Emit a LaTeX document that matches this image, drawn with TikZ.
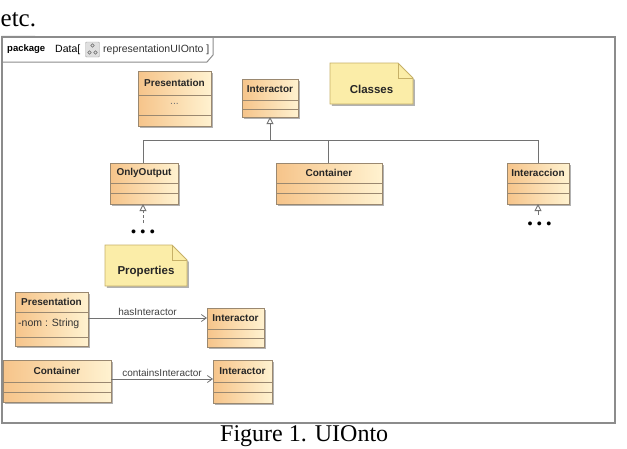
\documentclass[tikz,border=0pt]{standalone}
\usepackage{fontspec}
\setmainfont{Liberation Serif}
\setsansfont{Liberation Sans}
\usetikzlibrary{arrows.meta,shadows,calc}
\definecolor{clsA}{HTML}{F6C48A}
\definecolor{clsB}{HTML}{FFF2D0}
\definecolor{clsD}{HTML}{9A8870}
\definecolor{noteF}{HTML}{FBEDA8}
\definecolor{noteD}{HTML}{C6B067}
\definecolor{frameC}{HTML}{8C8C8C}
\definecolor{lineC}{HTML}{727272}
\tikzset{
  classbox/.style={draw=clsD, line width=0.8pt, left color=clsA, right color=clsB,
    drop shadow={shadow xshift=1.8pt, shadow yshift=-1.8pt, fill=black, opacity=0.3},
    inner sep=0pt, outer sep=0pt},
  clsname/.style={font=\sffamily\bfseries\fontsize{10}{10}\selectfont, inner sep=0pt, text=black!85},
  attr/.style={font=\sffamily\fontsize{10.5}{10.5}\selectfont, inner sep=0pt, text=black!80},
  notebox/.style={draw=noteD, line width=0.8pt, fill=noteF, line join=miter},
  notetext/.style={font=\sffamily\bfseries\fontsize{11.5}{11.5}\selectfont, inner sep=0pt, text=black!85},
  genline/.style={draw=lineC, line width=0.9pt},
  gentip/.style={-{Triangle[open, length=7pt, width=7pt, fill=white]}},
  assoc/.style={draw=lineC, line width=0.8pt, -{Straight Barb[length=5pt, width=7pt]}},
  asslabel/.style={font=\sffamily\fontsize{10}{10}\selectfont, text=black!75, inner sep=2.5pt},
  dotsnode/.style={font=\rmfamily\bfseries\fontsize{24}{24}\selectfont, inner sep=0pt},
  bigtext/.style={font=\rmfamily\fontsize{25}{25}\selectfont, inner sep=0pt},
}
% name, x1, y1, x2, y2, line1, line2, title
\newcommand\umlcls[8]{%
  \node[classbox, minimum width={#4-#2}, minimum height={#5-#3}] (#1) at ({(#2+#4)/2},{(#3+#5)/2}) {};
  \draw[clsD, line width=0.8pt] (#1.west |- 0,#6) -- (#1.east |- 0,#6);
  \draw[clsD, line width=0.8pt] (#1.west |- 0,#7) -- (#1.east |- 0,#7);
  \node[clsname] (#1-t) at ({(#2+#4)/2},{(#3+#6)/2}) {#8};
}
% name, x1, y1, x2, y2, text
\newcommand\umlnote[6]{%
  \node[minimum width={#4-#2}, minimum height={#5-#3}, inner sep=0pt, outer sep=0pt] (#1) at ({(#2+#4)/2},{(#3+#5)/2}) {};
  \filldraw[notebox, drop shadow={shadow xshift=1.8pt, shadow yshift=-1.8pt, fill=black, opacity=0.3}]
    (#1.north west) -- ($(#1.north east)+(-15,0)$) -- ($(#1.north east)+(0,15)$)
    -- (#1.south east) -- (#1.south west) -- cycle;
  \draw[notebox, fill=none] ($(#1.north east)+(-15,0)$) -- ($(#1.north east)+(-15,15)$) -- ($(#1.north east)+(0,15)$);
  \node[notetext] (#1-t) at ($(#1.center)+(0,6)$) {#6};
}
\begin{document}
\begin{tikzpicture}[x=1pt, y=-1pt]
\useasboundingbox (0,0) rectangle (627,448);
% outer text
\node[bigtext, anchor=base west] (etc) at (0.5,26) {etc.};
\node[bigtext, font=\rmfamily\fontsize{24}{24}\selectfont, anchor=base west] (cap) at (220,441.5) {Figure 1. UIOnto};
% frame
\node[draw=frameC, line width=1.2pt, minimum width=613pt, minimum height=386pt, inner sep=0pt] (frame) at (308.5,230) {};
\draw[frameC, line width=1pt] (frame.north west) -- (213,37) -- (213,55) -- (207,62) -- (2,62);
\node[font=\sffamily\bfseries\fontsize{9.5}{9.5}\selectfont, anchor=west, inner sep=0pt] (pkg) at (7,49.5) {package};
\node[font=\sffamily\fontsize{10.5}{10.5}\selectfont, anchor=west, inner sep=0pt] (pkgname) at (55,49.5) {Data[};
\node[draw=gray!70, fill=gray!25, rounded corners=1pt, minimum width=14pt, minimum height=15pt, inner sep=0pt] (icon) at (92.5,49.5) {};
\draw[gray!80!black, line width=0.6pt] ($(icon.center)+(0,-4)$) circle (1.8pt) ($(icon.center)+(-3,3)$) circle (1.8pt) ($(icon.center)+(3,3)$) circle (1.8pt);
\node[font=\sffamily\fontsize{10.5}{10.5}\selectfont, anchor=west, inner sep=0pt, text=black!80] (pkgdiag) at (103,49.5) {representationUIOnto ]};
% top classes
\umlcls{presTop}{138}{71}{211}{126}{95}{115}{Presentation}
\node[attr, text=black!55] (presTopdots) at (174.5,104) {...};
\umlcls{interTop}{242}{79}{298}{117}{100}{109}{Interactor}
\umlnote{noteClasses}{330}{63}{413}{104}{Classes}
\umlcls{onlyOut}{110}{163}{178}{204}{183}{193}{OnlyOutput}
\umlcls{contMid}{276}{163}{382}{204}{183}{193}{Container}
\umlcls{interac}{507}{163}{569}{204}{183}{193}{Interaccion}
% generalization tree
\coordinate (bus) at (270,140);
\draw[genline, gentip] (bus) -- (interTop.south);
\draw[genline] (onlyOut.north -| 143,0) |- (bus);
\draw[genline] (contMid.north -| 328,0) |- (bus);
\draw[genline] (interac.north -| 538,0) |- (bus);
% open subclasses
\coordinate (ooFree) at (143,223);
\coordinate (iaFree) at (538,215);
\draw[genline, gentip, dashed, dash pattern=on 3pt off 2pt] (ooFree) -- (onlyOut.south -| ooFree);
\draw[genline, gentip] (iaFree) -- (interac.south -| iaFree);
\node[dotsnode] (dots1) at (143,232) {.\hspace{3.5pt}.\hspace{3.5pt}.};
\node[dotsnode] (dots2) at (539.5,224) {.\hspace{3.5pt}.\hspace{3.5pt}.};
% properties
\umlnote{noteProps}{105}{245}{187}{286}{Properties}
\umlcls{presBot}{15}{292}{88}{346}{312}{337}{Presentation}
\node[attr, anchor=west] (presBotattr) at (18,324) {-nom : String};
\umlcls{interBot1}{207}{308}{264}{347}{329}{338}{Interactor}
\umlcls{contBot}{3}{360}{111}{402}{382}{392}{Container}
\umlcls{interBot2}{213}{360}{272}{403}{382}{392}{Interactor}
\draw[assoc] (presBot.east |- 0,318) -- (interBot1.west |- 0,318) node[asslabel, midway, above] {hasInteractor};
\draw[assoc] (contBot.east |- 0,379) -- (interBot2.west |- 0,379) node[asslabel, midway, above] {containsInteractor};
\end{tikzpicture}
\end{document}
